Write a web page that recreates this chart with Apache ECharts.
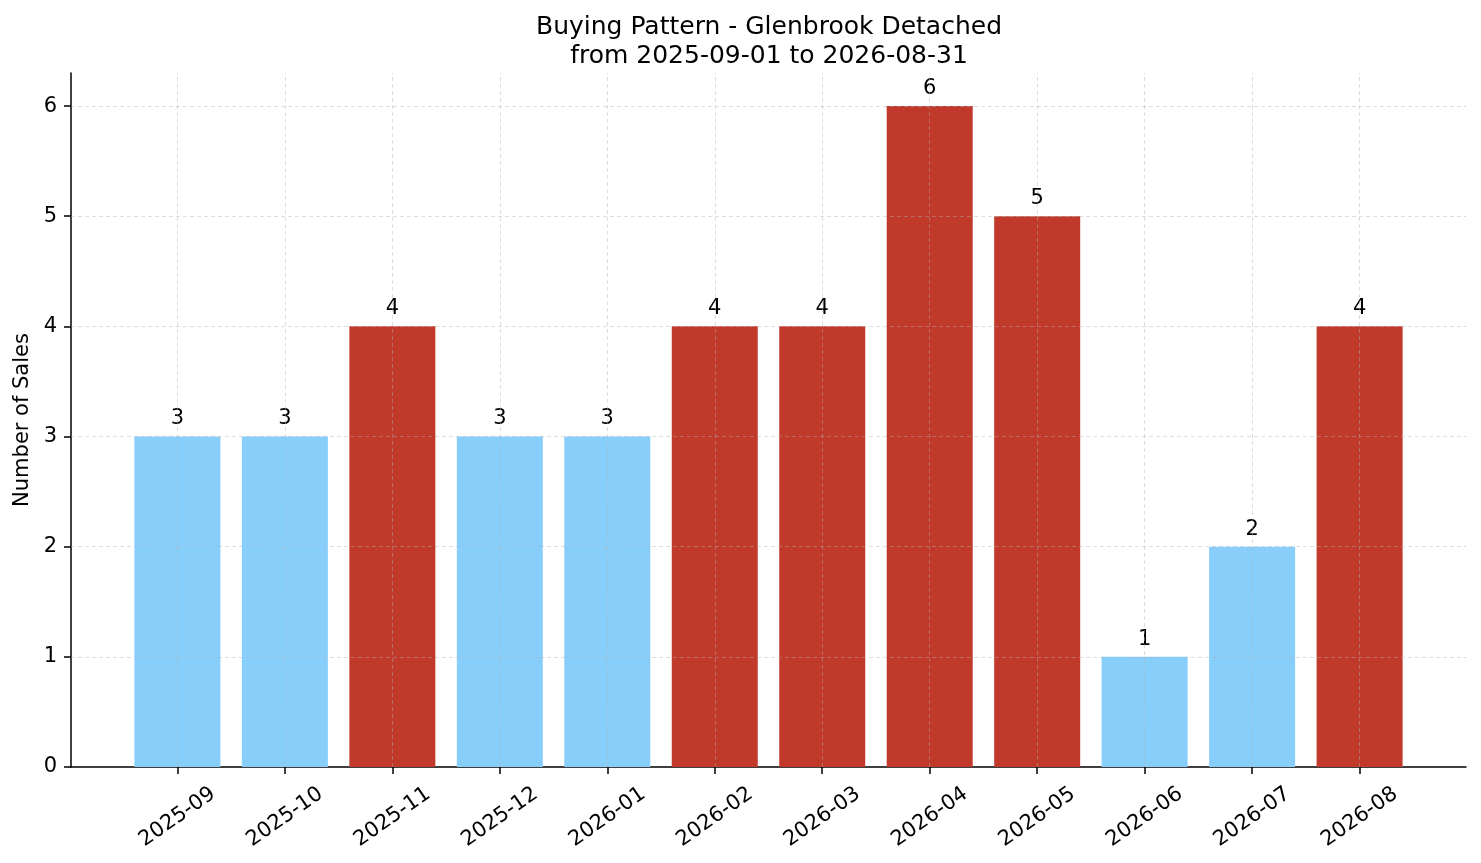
<!DOCTYPE html>
<html>
<head>
<meta charset="utf-8">
<script src="https://cdn.jsdelivr.net/npm/echarts@6/dist/echarts.min.js"></script>
<style>html,body{margin:0;padding:0;background:#fff}#c{width:1481px;height:863px}</style>
</head>
<body>
<div id="c"></div>
<script>
const categories = ['2025-09','2025-10','2025-11','2025-12','2026-01','2026-02','2026-03','2026-04','2026-05','2026-06','2026-07','2026-08'];
const sales = [3,3,4,3,3,4,4,6,5,1,2,4];
const yTicks = [0,1,2,3,4,5,6];
const titleText = 'Buying Pattern - Glenbrook Detached\nfrom 2025-09-01 to 2026-08-31';

const mean = sales.reduce((a,b)=>a+b,0)/sales.length;
const FONT = 'DejaVu Sans';
const FS = 21;
const xIdx = categories.map((_,i)=>i);
const barData = sales.map((v,i)=>({value:[i,v], itemStyle:{color: v > mean ? '#C0392B' : '#87CEFA'}}));
const gridStyle = {type:[4,3], color:'rgba(176,176,176,0.55)', width:0.8};

const chart = echarts.init(document.getElementById('c'), null, {renderer:'canvas'});
chart.setOption({
  animation:false,
  backgroundColor:'#fff',
  textStyle:{fontFamily:FONT},
  title:{
    text:titleText, left:764, top:8, textAlign:'center',
    textStyle:{fontFamily:FONT, fontSize:25, fontWeight:'normal', color:'#000', lineHeight:29}
  },
  grid:{left:71, right:15, top:73, bottom:96, containLabel:false, outerBoundsMode:'none'},
  xAxis:{
    type:'value', min:-0.99, max:11.99,
    axisLine:{show:true, onZero:false, lineStyle:{color:'#000', width:1.5}},
    axisTick:{show:true, customValues:xIdx, length:7, lineStyle:{color:'#000', width:1.5}},
    axisLabel:{customValues:xIdx, formatter:(v)=>categories[Math.round(v)] ?? '', rotate:35,
      align:'center', verticalAlign:'middle', margin:50, fontSize:FS, color:'#000', fontFamily:FONT},
    splitLine:{show:false}
  },
  yAxis:{
    type:'value', min:0, max:6.3,
    name:'Number of Sales', nameLocation:'middle', nameGap:37, nameRotate:90,
    nameTextStyle:{fontSize:FS, color:'#000', fontFamily:FONT},
    axisLine:{show:true, onZero:false, lineStyle:{color:'#000', width:1.5}},
    axisTick:{show:true, customValues:yTicks, length:7, lineStyle:{color:'#000', width:1.5}},
    axisLabel:{customValues:yTicks, margin:14, fontSize:FS, color:'#000', fontFamily:FONT},
    splitLine:{show:false}
  },
  series:[{
    type:'bar', data:barData, barWidth:86,
    label:{show:true, position:'top', distance:7, fontSize:FS, color:'#000', fontFamily:FONT,
      formatter:(p)=>String(p.value[1])},
    markLine:{
      silent:true, symbol:['none','none'], label:{show:false},
      lineStyle:gridStyle, animation:false,
      data:[...xIdx.map(i=>({xAxis:i})), ...yTicks.filter(t=>t>0).map(t=>({yAxis:t}))]
    }
  }]
});
</script>
</body>
</html>
